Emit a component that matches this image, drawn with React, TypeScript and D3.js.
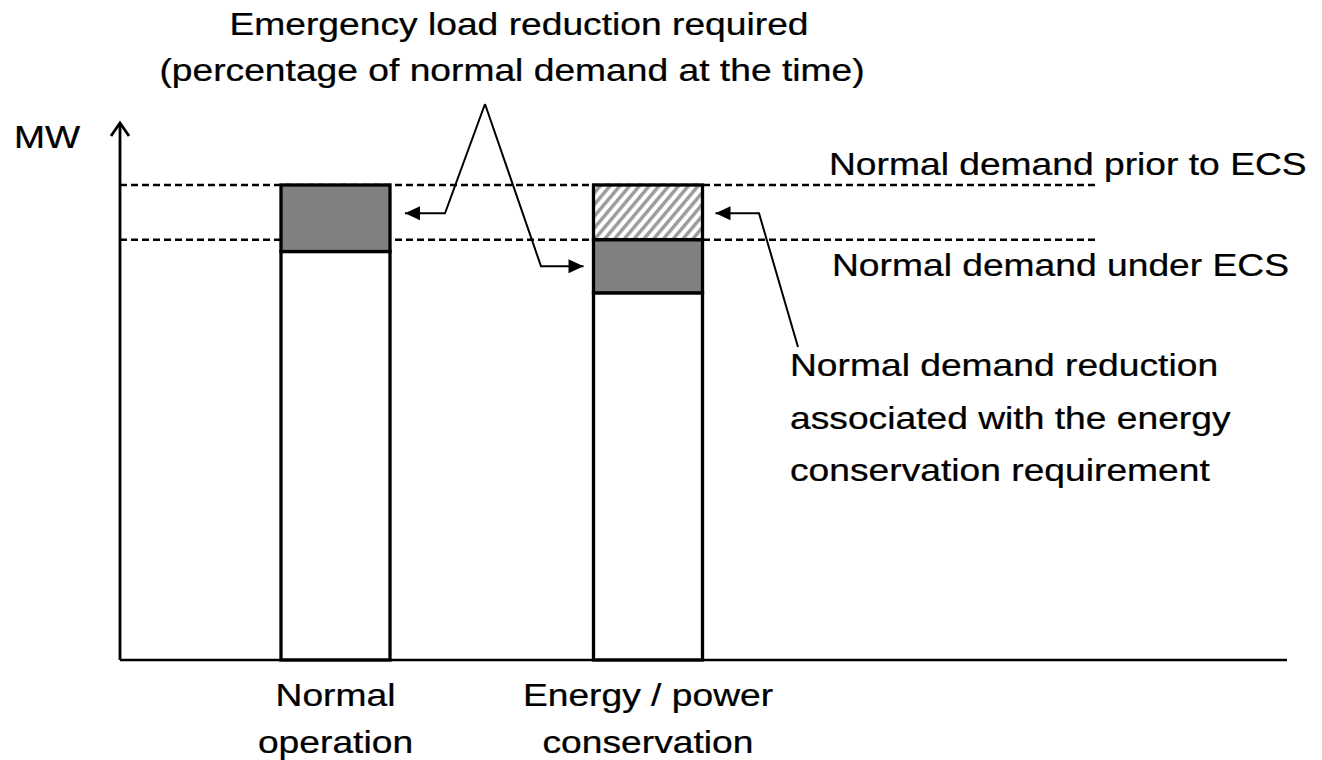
import React from "react";
import * as d3 from "d3";

const categories = ["Normal operation", "Energy / power conservation"];
const categoryLines = [["Normal", "operation"], ["Energy / power", "conservation"]];
// stacked segments (MW, relative units)
const baseLoad = [86.0, 77.3];
const emergencyReduction = [14.0, 11.2];
const conservationReduction = [0, 11.5];
const demandPrior = 100;
const demandUnderECS = 88.5;

const W = 1322;
const H = 760;
const FONT = "'Liberation Sans', Arial, sans-serif";
const SX = 1.22;

function T({ x, y, children, anchor = "start" }: { x: number; y: number; children: React.ReactNode; anchor?: string }) {
  return (
    <text
      transform={`translate(${x},${y}) scale(${SX},1)`}
      textAnchor={anchor as any}
      fontFamily={FONT}
      fontSize={30.5}
      fill="#000"
      stroke="#000"
      strokeWidth={0.25}
    >
      {children}
    </text>
  );
}

export default function App() {
  const y = d3.scaleLinear().domain([0, 100]).range([660, 185]);
  const x = d3.scalePoint<string>().domain(categories).range([335.5, 648]);
  const barW = 109;

  const rows = categories.map((c, i) => ({
    cat: c,
    base: baseLoad[i],
    emergency: emergencyReduction[i],
    conservation: conservationReduction[i],
  }));
  const stack = d3.stack<any>().keys(["base", "emergency", "conservation"])(rows);
  const fills: Record<string, string> = {
    base: "#ffffff",
    emergency: "#808080",
    conservation: "url(#hatch)",
  };

  const line = d3.line();
  const axisX = 120;
  const baseY = y(0);

  const arrowHead = (tx: number, ty: number, dir: number) => {
    const L = 15, hw = 7;
    return `M${tx},${ty} L${tx - dir * L},${ty - hw} L${tx - dir * L},${ty + hw} Z`;
  };

  const yPrior = y(demandPrior);
  const yEcs = y(demandUnderECS);
  const x1 = x(categories[0])!;
  const x2 = x(categories[1])!;
  const apex: [number, number] = [485, 104];
  const a1Tip: [number, number] = [x1 + barW / 2 + 15, (yPrior + y(baseLoad[0])) / 2 - 5];
  const a2Tip: [number, number] = [x2 - barW / 2 - 10, (yEcs + y(baseLoad[1])) / 2];
  const a3Tip: [number, number] = [x2 + barW / 2 + 13, a1Tip[1]];

  return (
    <svg width={W} height={H} style={{ position: "absolute", left: 0, top: 0, background: "#fff" }}>
      <defs>
        <pattern id="hatch" width={7.5} height={7.5} patternUnits="userSpaceOnUse" patternTransform="rotate(40)">
          <rect width={7.5} height={7.5} fill="#fff" />
          <line x1={1.8} y1={0} x2={1.8} y2={7.5} stroke="#9a9a9a" strokeWidth={3.4} />
        </pattern>
      </defs>
      <rect width={W} height={H} fill="#fff" />

      {/* dashed reference lines */}
      {[yPrior, yEcs].map((yy, i) => (
        <line key={i} x1={axisX} x2={1095} y1={yy} y2={yy} stroke="#000" strokeWidth={2.5} strokeDasharray="7,4" />
      ))}

      {/* bars */}
      {stack.map((s) =>
        s.map((d, i) =>
          d[1] - d[0] > 0 ? (
            <rect
              key={s.key + i}
              x={x(categories[i])! - barW / 2}
              y={y(d[1])}
              width={barW}
              height={y(d[0]) - y(d[1])}
              fill={fills[s.key]}
              stroke="#000"
              strokeWidth={3.3}
            />
          ) : null
        )
      )}

      {/* axes */}
      <line x1={axisX} x2={1287} y1={baseY} y2={baseY} stroke="#000" strokeWidth={2.5} />
      <line x1={axisX} x2={axisX} y1={baseY} y2={123} stroke="#000" strokeWidth={2.8} />
      <path d={`M${axisX - 9},${136} L${axisX},${123} L${axisX + 9},${136}`} fill="none" stroke="#000" strokeWidth={2.8} />

      {/* annotation arrows */}
      <path d={line([a1Tip, [445, a1Tip[1]], apex])!} fill="none" stroke="#000" strokeWidth={2} />
      <path d={arrowHead(a1Tip[0], a1Tip[1], -1)} fill="#000" />
      <path d={line([apex, [541, a2Tip[1]], a2Tip])!} fill="none" stroke="#000" strokeWidth={2} />
      <path d={arrowHead(a2Tip[0], a2Tip[1], 1)} fill="#000" />
      <path d={line([a3Tip, [759, a3Tip[1]], [798, 347]])!} fill="none" stroke="#000" strokeWidth={2} />
      <path d={arrowHead(a3Tip[0], a3Tip[1], -1)} fill="#000" />

      {/* texts */}
      <T x={519} y={35} anchor="middle">Emergency load reduction required</T>
      <T x={512} y={81} anchor="middle">(percentage of normal demand at the time)</T>
      <T x={14} y={148}>MW</T>
      <T x={829} y={175}>Normal demand prior to ECS</T>
      <T x={832} y={276}>Normal demand under ECS</T>
      <T x={790} y={376}>Normal demand reduction</T>
      <T x={790} y={429}>associated with the energy</T>
      <T x={790} y={481}>conservation requirement</T>

      {categoryLines.map((lines, i) =>
        lines.map((ln, j) => (
          <T key={i + "-" + j} x={x(categories[i])!} y={706 + j * 47} anchor="middle">
            {ln}
          </T>
        ))
      )}
    </svg>
  );
}
